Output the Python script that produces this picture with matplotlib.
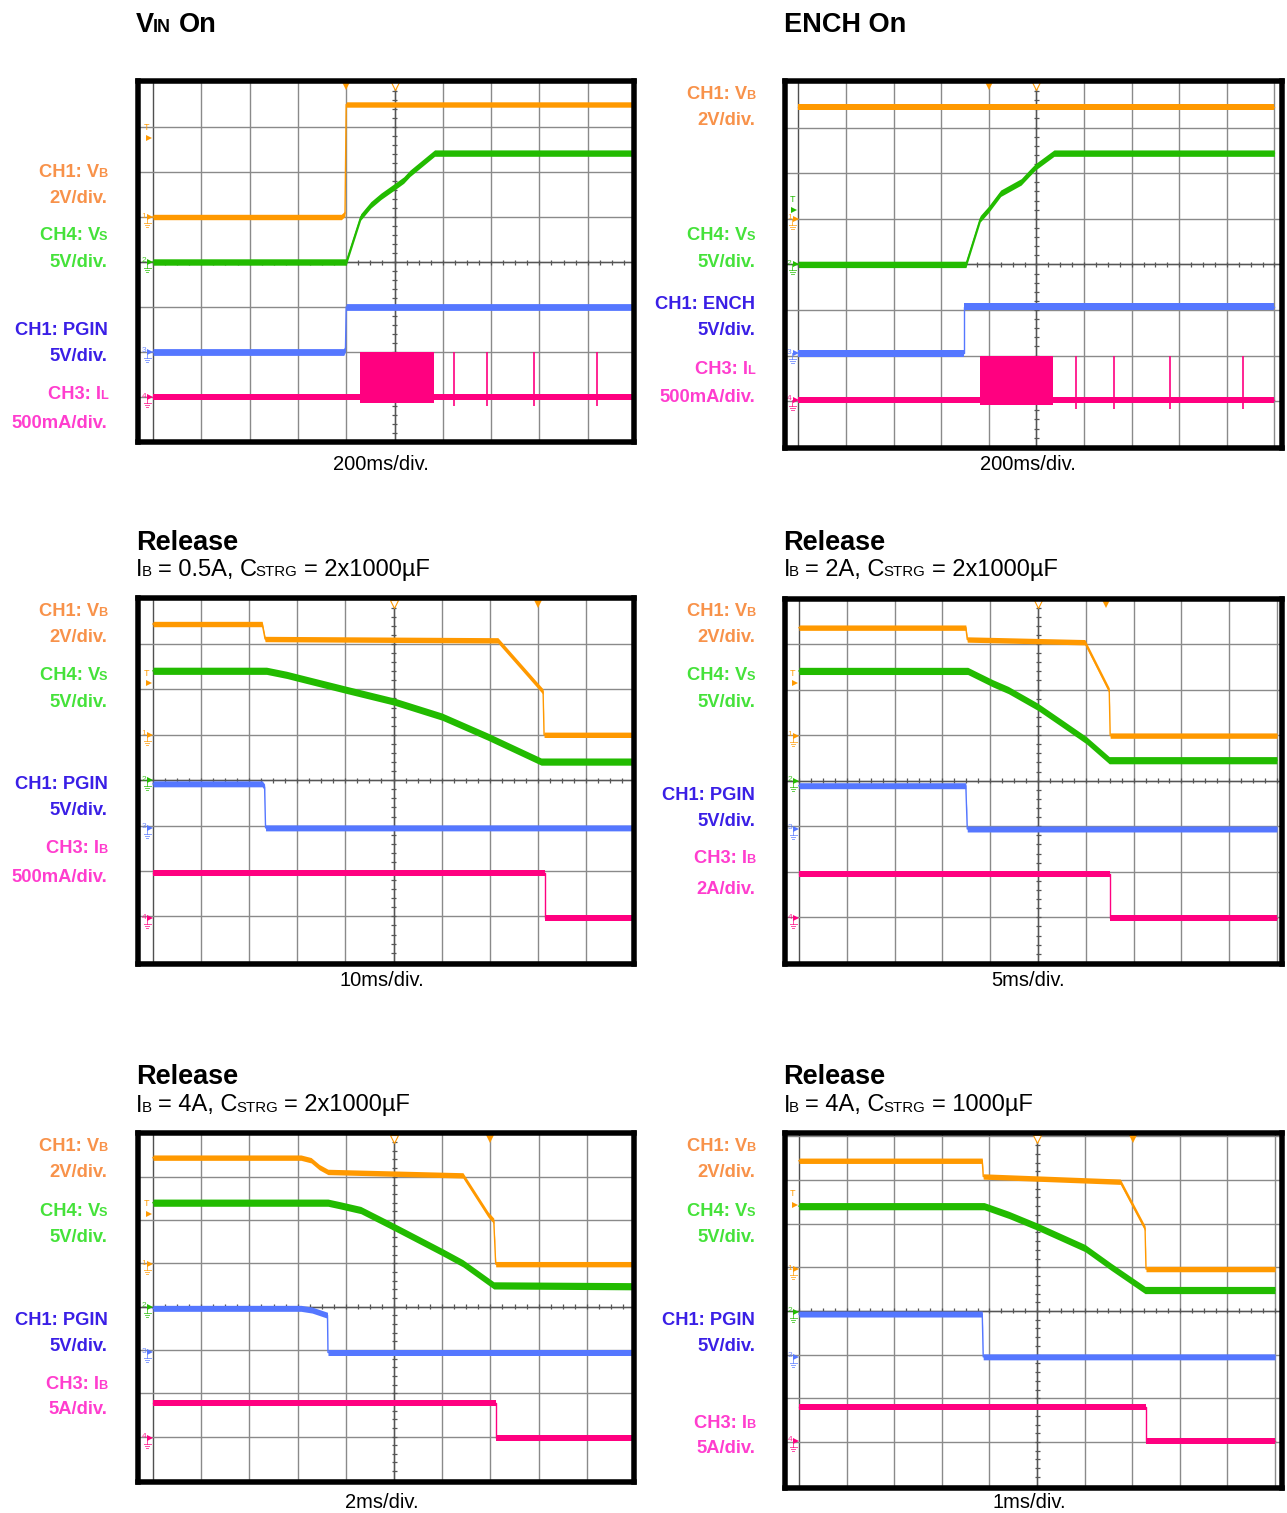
import re
import numpy as np
import matplotlib
matplotlib.use("Agg")
import matplotlib.pyplot as plt
from matplotlib.transforms import IdentityTransform

W, H, DPI = 1287, 1513, 100
FAM = ['Liberation Sans', 'DejaVu Sans']

# trace colours
C_VB, C_VS, C_PG, C_IB = '#FF9900', '#22BB00', '#5577FF', '#FF0080'
# channel-label colours
L_VB, L_VS, L_PG, L_IB = '#F8924A', '#45E23A', '#3A1FE6', '#FF3DCE'

# ---------------- VIN On : 200 ms/div ----------------
von_vb_t = [0, 780, 795, 800, 2000]
von_vb_v = [0.0, 0.0, 0.15, 5.0, 5.0]
von_vs_t = [0, 800, 860, 902, 944, 1002, 1038, 1064, 1166, 2000]
von_vs_v = [0.0, 0.0, 5.0, 6.35, 7.3, 8.4, 9.1, 9.85, 12.1, 12.1]
von_pg_t = [0, 790, 797, 800, 2000]
von_pg_v = [0.0, 0.0, 0.4, 5.0, 5.0]
von_il_t = [0, 2000]
von_il_v = [0.0, 0.0]
von_burst_t = [856, 1164]
von_burst_i = [-0.065, 0.5]
von_spike_t = [1248, 1382, 1576, 1838]
von_spike_i = [-0.1, 0.5]

# ---------------- ENCH On : 200 ms/div ----------------
en_vb_t = [0, 2000]
en_vb_v = [4.9, 4.9]
en_vs_t = [0, 704, 764, 798, 850, 936, 970, 996, 1074, 2000]
en_vs_v = [0.0, 0.0, 5.0, 6.0, 7.8, 9.05, 10.0, 10.7, 12.2, 12.2]
en_en_t = [0, 696, 696, 2000]
en_en_v = [0.0, 0.0, 5.1, 5.1]
en_il_t = [0, 2000]
en_il_v = [0.0, 0.0]
en_burst_t = [762, 1068]
en_burst_i = [-0.055, 0.485]
en_spike_t = [1166, 1326, 1560, 1870]
en_spike_i = [-0.1, 0.485]

# ---------------- Release, IB = 0.5 A, 2x1000 uF : 10 ms/div ----------------
r1_vb_t = [0, 22.7, 23.3, 71.7, 81.1, 81.3, 100]
r1_vb_v = [4.88, 4.88, 4.22, 4.16, 1.9, 0.0, 0.0]
r1_vs_t = [0, 23.6, 27.8, 30.4, 40.2, 50.2, 60.1, 69.6, 80.7, 100]
r1_vs_v = [12.05, 12.05, 11.6, 11.25, 9.95, 8.65, 7.0, 4.8, 2.05, 2.05]
r1_pg_t = [0, 22.7, 23.2, 23.4, 100]
r1_pg_v = [4.85, 4.85, 4.5, 0.0, 0.0]
r1_ib_t = [0, 81.5, 81.5, 100]
r1_ib_v = [0.5, 0.5, 0.0, 0.0]

# ---------------- Release, IB = 2 A, 2x1000 uF : 5 ms/div ----------------
r2_vb_t = [0, 17.45, 17.6, 29.9, 32.45, 32.55, 50]
r2_vb_v = [4.74, 4.74, 4.22, 4.1, 1.98, 0.0, 0.0]
r2_vs_t = [0, 17.65, 20.25, 21.9, 25.0, 27.5, 30.05, 32.45, 50]
r2_vs_v = [12.05, 12.05, 10.7, 9.95, 8.1, 6.3, 4.45, 2.25, 2.25]
r2_pg_t = [0, 17.45, 17.6, 50]
r2_pg_v = [4.75, 4.75, 0.0, 0.0]
r2_ib_t = [0, 32.55, 32.55, 50]
r2_ib_v = [1.96, 1.96, 0.0, 0.0]

# ---------------- Release, IB = 4 A, 2x1000 uF : 2 ms/div ----------------
r3_vb_t = [0, 6.14, 6.56, 6.9, 7.26, 12.86, 13.9, 14.14, 14.22, 20]
r3_vb_v = [4.92, 4.92, 4.8, 4.48, 4.26, 4.1, 2.3, 2.0, 0.0, 0.0]
r3_vs_t = [0, 7.26, 7.76, 8.62, 10.0, 12.0, 12.86, 14.14, 20]
r3_vs_v = [12.0, 12.0, 11.7, 11.15, 9.2, 6.3, 5.0, 2.45, 2.35]
r3_pg_t = [0, 6.14, 6.6, 7.24, 7.26, 20]
r3_pg_v = [5.1, 5.1, 4.9, 4.3, 0.0, 0.0]
r3_ib_t = [0, 14.22, 14.22, 20]
r3_ib_v = [4.05, 4.05, 0.0, 0.0]

# ---------------- Release, IB = 4 A, 1000 uF : 1 ms/div ----------------
r4_vb_t = [0, 3.85, 3.87, 6.75, 7.27, 7.29, 10]
r4_vb_v = [4.96, 4.96, 4.24, 4.0, 1.86, 0.0, 0.0]
r4_vs_t = [0, 3.89, 4.41, 5.01, 6.01, 6.56, 7.27, 10]
r4_vs_v = [12.1, 12.1, 11.1, 9.75, 7.3, 5.15, 2.5, 2.5]
r4_pg_t = [0, 3.85, 3.87, 10]
r4_pg_v = [4.9, 4.9, 0.0, 0.0]
r4_ib_t = [0, 7.3, 7.3, 10]
r4_ib_v = [3.9, 3.9, 0.0, 0.0]

# titles, sub-titles and time bases ({...} = subscript)
titles = ["V{IN} On", "ENCH On", "Release", "Release", "Release", "Release"]
subtitles = [None, None,
             "I{B} = 0.5A, C{STRG} = 2x1000µF",
             "I{B} = 2A, C{STRG} = 2x1000µF",
             "I{B} = 4A, C{STRG} = 2x1000µF",
             "I{B} = 4A, C{STRG} = 1000µF"]
timebases = ["200ms/div.", "200ms/div.", "10ms/div.", "5ms/div.", "2ms/div.", "1ms/div."]

lab_vb = ["CH1: V{B}", "2V/div."]
lab_vs = ["CH4: V{S}", "5V/div."]
lab_pg = ["CH1: PGIN", "5V/div."]
lab_en = ["CH1: ENCH", "5V/div."]
lab_il = ["CH3: I{L}", "500mA/div."]
lab_ib05 = ["CH3: I{B}", "500mA/div."]
lab_ib2 = ["CH3: I{B}", "2A/div."]
lab_ib5 = ["CH3: I{B}", "5A/div."]

# ---------------- layout ----------------
FRAME = 5.5  # px
panels = [
    dict(frame=(135, 78, 637, 445), x0=153, dx=48.3, ytop=82, dy=45.0,
         tdiv=200, trig=(800, 6.98, 6.76, C_VB),
         ch=[(von_vb_t, von_vb_v, 2, 5.0, C_VB, 2.7, '1'),
             (von_vs_t, von_vs_v, 5, 4.0, C_VS, 3.2, '2'),
             (von_pg_t, von_pg_v, 5, 2.0, C_PG, 3.4, '3'),
             (von_il_t, von_il_v, 0.5, 1.0, C_IB, 3.0, '4')],
         burst=(von_burst_t, von_burst_i, von_spike_t, von_spike_i, 0.5, 1.0),
         labels=[(lab_vb, L_VB, (170, 196)), (lab_vs, L_VS, (233, 260)),
                 (lab_pg, L_PG, (328, 354)), (lab_il, L_IB, (392, 421))],
         lab_x=107.5, title_xy=(136, 31.5), sub_y=None, tb_xy=(381, 470.5)),
    dict(frame=(782, 78, 1285, 451), x0=798.4, dx=47.6, ytop=82, dy=45.6,
         tdiv=200, trig=(800, 5.43, 5.2, C_VS),
         ch=[(en_vb_t, en_vb_v, 2, 5.0, C_VB, 2.7, '1'),
             (en_vs_t, en_vs_v, 5, 4.0, C_VS, 3.2, '2'),
             (en_en_t, en_en_v, 5, 2.05, C_PG, 3.4, '3'),
             (en_il_t, en_il_v, 0.5, 1.03, C_IB, 3.0, '4')],
         burst=(en_burst_t, en_burst_i, en_spike_t, en_spike_i, 0.5, 1.03),
         labels=[(lab_vb, L_VB, (92, 118)), (lab_vs, L_VS, (233, 260)),
                 (lab_en, L_PG, (302, 328)), (lab_il, L_IB, (367, 395))],
         lab_x=755, title_xy=(783.5, 31.5), sub_y=None, tb_xy=(1028, 470.5)),
    dict(frame=(135.5, 595.5, 637, 967), x0=153, dx=48.1, ytop=598.6, dy=45.4,
         tdiv=10, trig=(80, 6.36, 6.14, C_VB),
         ch=[(r1_vb_t, r1_vb_v, 2, 5.0, C_VB, 2.7, '1'),
             (r1_vs_t, r1_vs_v, 5, 4.0, C_VS, 3.6, '2'),
             (r1_pg_t, r1_pg_v, 5, 2.95, C_PG, 3.0, '3'),
             (r1_ib_t, r1_ib_v, 0.5, 0.96, C_IB, 3.0, '4')],
         burst=None,
         labels=[(lab_vb, L_VB, (609, 635)), (lab_vs, L_VS, (673, 700)),
                 (lab_pg, L_PG, (782, 808)), (lab_ib05, L_IB, (846, 875))],
         lab_x=107.5, title_xy=(136, 549.5), sub_y=576, tb_xy=(382, 986.5)),
    dict(frame=(782, 596, 1285, 967), x0=799, dx=47.8, ytop=598.5, dy=45.55,
         tdiv=5, trig=(32.15, 6.36, 6.14, C_VB),
         ch=[(r2_vb_t, r2_vb_v, 2, 4.99, C_VB, 2.7, '1'),
             (r2_vs_t, r2_vs_v, 5, 4.0, C_VS, 3.6, '2'),
             (r2_pg_t, r2_pg_v, 5, 2.94, C_PG, 3.0, '3'),
             (r2_ib_t, r2_ib_v, 2, 0.98, C_IB, 3.0, '4')],
         burst=None,
         labels=[(lab_vb, L_VB, (609, 635)), (lab_vs, L_VS, (673, 700)),
                 (lab_pg, L_PG, (793, 819)), (lab_ib2, L_IB, (856, 887))],
         lab_x=755, title_xy=(783.5, 549.5), sub_y=576, tb_xy=(1028, 986.5)),
    dict(frame=(135.5, 1130.5, 637, 1485), x0=153, dx=48.2, ytop=1133.4, dy=43.3,
         tdiv=2, trig=(14.0, 6.38, 6.13, C_VB),
         ch=[(r3_vb_t, r3_vb_v, 2, 4.98, C_VB, 2.7, '1'),
             (r3_vs_t, r3_vs_v, 5, 4.0, C_VS, 3.6, '2'),
             (r3_pg_t, r3_pg_v, 5, 2.94, C_PG, 3.0, '3'),
             (r3_ib_t, r3_ib_v, 5, 0.97, C_IB, 3.0, '4')],
         burst=None,
         labels=[(lab_vb, L_VB, (1144, 1170)), (lab_vs, L_VS, (1209, 1235)),
                 (lab_pg, L_PG, (1318, 1344)), (lab_ib5, L_IB, (1382, 1407))],
         lab_x=107.5, title_xy=(136, 1084), sub_y=1111.5, tb_xy=(382, 1508)),
    dict(frame=(782, 1130.5, 1285, 1491), x0=799, dx=47.6, ytop=1136.3, dy=43.67,
         tdiv=1, trig=(7.02, 6.7, 6.43, C_VB),
         ch=[(r4_vb_t, r4_vb_v, 2, 4.96, C_VB, 2.7, '1'),
             (r4_vs_t, r4_vs_v, 5, 3.98, C_VS, 3.6, '2'),
             (r4_pg_t, r4_pg_v, 5, 2.95, C_PG, 3.0, '3'),
             (r4_ib_t, r4_ib_v, 5, 1.03, C_IB, 3.0, '4')],
         burst=None,
         labels=[(lab_vb, L_VB, (1144, 1170)), (lab_vs, L_VS, (1209, 1235)),
                 (lab_pg, L_PG, (1318, 1344)), (lab_ib5, L_IB, (1421, 1446))],
         lab_x=755, title_xy=(783.5, 1084), sub_y=1111.5, tb_xy=(1029, 1508)),
]

fig = plt.figure(figsize=(W / DPI, H / DPI), dpi=DPI)
fig.patch.set_facecolor('white')
renderer = fig.canvas.get_renderer()
KERN = 1.2      # px trimmed where two runs touch
SPACE = 0.278   # space advance, em


def rich(x, yb, s, size, sub_size, weight, color, ha='left'):
    """Draw text with {...} runs as small baseline subscripts (x, yb in image px).
    Spaces at the ends of runs become explicit gaps."""
    pieces = [p for p in re.split(r'(\{[^}]*\})', s) if p]
    runs = []  # (artist, ink width, gap before)
    pending = 0.0
    for p in pieces:
        if p.startswith('{'):
            txt, fs = p[1:-1], sub_size
        else:
            txt, fs = p, size
        em = fs * DPI / 72.0
        lead = len(txt) - len(txt.lstrip(' '))
        trail = len(txt) - len(txt.rstrip(' '))
        pending += lead * SPACE * em
        core = txt.strip(' ')
        if core:
            a = fig.text(0, 0, core, fontsize=fs, fontweight=weight, color=color,
                         family=FAM, transform=IdentityTransform(),
                         ha='left', va='baseline')
            w = a.get_window_extent(renderer).width
            gap = -KERN if runs and pending == 0 else pending
            runs.append((a, w, gap if runs else 0.0))
            pending = 0.0
        pending += trail * SPACE * em
    total = sum(w + g for _, w, g in runs)
    if ha == 'right':
        cx = x - total
    elif ha == 'center':
        cx = x - total / 2
    else:
        cx = x
    for a, w, g in runs:
        cx += g
        a.set_position((cx, H - yb))
        cx += w


def trace(ax, t, v, tdiv, vdiv, gnd, color, half):
    x = np.asarray(t, float) / tdiv
    y = gnd + np.asarray(v, float) / vdiv
    ax.fill_between(x, y - half, y + half, color=color, lw=0, zorder=1.5)
    ax.plot(x, y, color=color, lw=1.0, zorder=1.6)


GRID = '#8a8a8a'
for ti, p in enumerate(panels):
    L, T, R, B = p['frame']
    x0, dx, ytop, dy = p['x0'], p['dx'], p['ytop'], p['dy']
    axL, axR, axT, axB = L + FRAME / 2, R - FRAME / 2, T + FRAME / 2, B - FRAME / 2
    ax = fig.add_axes([axL / W, 1 - axB / H, (axR - axL) / W, (axB - axT) / H])
    ybot = ytop + 8 * dy
    ax.set_xlim((axL - x0) / dx, (axR - x0) / dx)
    ax.set_ylim((ybot - axB) / dy, (ybot - axT) / dy)
    ax.set_xticks([])
    ax.set_yticks([])
    for s in ax.spines.values():
        s.set_linewidth(FRAME * 72 / DPI)
        s.set_color('black')
    pxx, pxy = 1.0 / dx, 1.0 / dy

    # graticule
    for k in range(11):
        ax.axvline(k, color='#505050' if k == 0 else GRID, lw=1.0, zorder=0.5)
    for j in range(9):
        ax.axhline(j, color=GRID, lw=1.0, zorder=0.5)
    ax.axvline(5, color='#555555', lw=1.0, zorder=0.6)
    ax.axhline(4, color='#555555', lw=1.0, zorder=0.6)
    ax.hlines(np.arange(0, 8.001, 0.2), 5 - 2.5 * pxx, 5 + 2.5 * pxx,
              color='#555555', lw=0.9, zorder=0.6)
    ax.vlines(np.arange(0, 10.001, 0.25), 4 - 2.5 * pxy, 4 + 2.5 * pxy,
              color='#555555', lw=0.9, zorder=0.6)

    tdiv = p['tdiv']
    # switching burst and spikes of the inductor current
    if p['burst'] is not None:
        bt, bi, st, si, idiv, ig = p['burst']
        ax.fill_between(np.asarray(bt) / tdiv, ig + bi[0] / idiv, ig + bi[1] / idiv,
                        color=C_IB, lw=0, zorder=1.5)
        ax.vlines(np.asarray(st) / tdiv, ig + si[0] / idiv, ig + si[1] / idiv,
                  color=C_IB, lw=1.2, zorder=1.6)

    for t, v, vdiv, gnd, color, half, num in p['ch']:
        trace(ax, t, v, tdiv, vdiv, gnd, color, half * pxy)
        # channel ground marker in the left strip
        ax.text(-9 * pxx, gnd + 1 * pxy, num, fontsize=6, color=color,
                ha='center', va='center', family=FAM, zorder=2, alpha=0.85)
        ax.plot([-2.6 * pxx], [gnd], marker='>', ms=4.5, color=color,
                mew=0, zorder=2)
        gx = -6 * pxx
        ax.plot([gx, gx], [gnd, gnd - 6 * pxy], color=color, lw=0.7, alpha=0.7, zorder=2)
        for k, wd in enumerate((3.5, 2.4, 1.2)):
            yy = gnd - (6 + 2 * k) * pxy
            ax.plot([gx - wd * pxx, gx + wd * pxx], [yy, yy], color=color,
                    lw=0.7, alpha=0.7, zorder=2)

    # trigger markers
    ttime, tlev, tarr, tcol = p['trig']
    ax.text(-6 * pxx, tlev, 'T', fontsize=6.5, color=tcol, ha='center',
            va='center', family=FAM, zorder=2)
    ax.plot([-4 * pxx], [tarr], marker='>', ms=5, color=tcol, mew=0, zorder=2)
    ytm = (ybot - (T + FRAME + 2.5)) / dy
    ax.plot([ttime / tdiv], [ytm], marker='v', ms=6, color=C_VB, mew=0, zorder=2)
    ax.plot([5], [ytm], marker='v', ms=5.5, mfc='white', mec=C_VB, mew=0.8, zorder=2)

    # texts
    tx, ty = p['title_xy']
    rich(tx, ty, titles[ti], 19.5, 13.0, 'bold', 'black')
    if subtitles[ti]:
        rich(tx, p['sub_y'], subtitles[ti], 17.0, 10.8, 'normal', 'black')
    bx, by = p['tb_xy']
    rich(bx, by, timebases[ti], 14.5, 10, 'normal', 'black', ha='center')
    for lines, col, ys in p['labels']:
        for s, yc in zip(lines, ys):
            rich(p['lab_x'], yc + 6.6, s, 13.2, 9.2, 'bold', col, ha='right')

fig.savefig('out.png', dpi=DPI, facecolor='white')
